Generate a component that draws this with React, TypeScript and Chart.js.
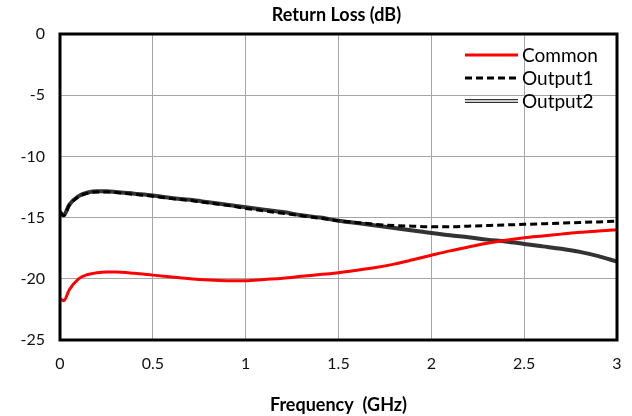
import React, { useEffect, useRef } from "react";
import { Chart, registerables } from "chart.js";

Chart.register(...registerables);

const freq = [0, 0.02, 0.05, 0.1, 0.15, 0.2, 0.25, 0.3, 0.4, 0.5, 0.6, 0.7, 0.8, 0.9, 1.0, 1.1, 1.2, 1.3, 1.4, 1.5, 1.6, 1.7, 1.8, 1.9, 2.0, 2.1, 2.2, 2.3, 2.4, 2.5, 2.6, 2.7, 2.8, 2.9, 3.0];

const common = [-21.6, -21.8, -20.9, -20.0, -19.65, -19.5, -19.45, -19.45, -19.55, -19.7, -19.85, -20.0, -20.1, -20.15, -20.15, -20.05, -19.95, -19.8, -19.65, -19.5, -19.3, -19.08, -18.8, -18.45, -18.08, -17.72, -17.4, -17.1, -16.85, -16.65, -16.5, -16.35, -16.2, -16.1, -16.0];

const output1 = [-14.6, -14.85, -14.0, -13.3, -13.0, -12.9, -12.9, -12.95, -13.1, -13.25, -13.45, -13.6, -13.8, -14.0, -14.25, -14.45, -14.65, -14.85, -15.05, -15.25, -15.4, -15.55, -15.65, -15.7, -15.75, -15.75, -15.7, -15.65, -15.6, -15.55, -15.5, -15.45, -15.4, -15.35, -15.3];

const output2 = [-14.55, -14.8, -13.95, -13.25, -12.95, -12.85, -12.85, -12.9, -13.05, -13.2, -13.4, -13.55, -13.75, -13.95, -14.15, -14.35, -14.55, -14.8, -15.0, -15.25, -15.45, -15.65, -15.85, -16.05, -16.25, -16.45, -16.6, -16.8, -16.95, -17.15, -17.35, -17.55, -17.8, -18.15, -18.6];

const seriesNames = ["Common", "Output1", "Output2"];
const titleText = "Return Loss (dB)";
const xTitle = "Frequency  (GHz)";

const FONT = "Lato, 'Open Sans', sans-serif";

const toPts = (vals: number[]) => vals.map((v, i) => ({ x: freq[i], y: v }));

const frameAndLegend = {
  id: "frameAndLegend",
  afterDatasetsDraw(chart: any) {
    const { ctx, chartArea } = chart;
    ctx.save();
    ctx.strokeStyle = "#000";
    ctx.lineWidth = 3;
    ctx.strokeRect(chartArea.left, chartArea.top, chartArea.right - chartArea.left, chartArea.bottom - chartArea.top);

    // title
    ctx.fillStyle = "#000";
    ctx.font = "bold 18px " + FONT;
    ctx.textAlign = "center";
    ctx.textBaseline = "middle";
    ctx.fillText(titleText, (chartArea.left + chartArea.right) / 2 - 2, 15);

    // legend
    const x0 = chartArea.left + 405;
    const x1 = x0 + 53;
    const ys = [chartArea.top + 21, chartArea.top + 44, chartArea.top + 67];
    ctx.font = "19px " + FONT;
    ctx.textBaseline = "middle";
    ctx.textAlign = "left";
    ctx.lineCap = "butt";
    seriesNames.forEach((name, i) => {
      const y = ys[i];
      ctx.setLineDash([]);
      if (i === 0) {
        ctx.strokeStyle = "#ff0000";
        ctx.lineWidth = 3;
        ctx.beginPath(); ctx.moveTo(x0, y); ctx.lineTo(x1, y); ctx.stroke();
      } else if (i === 1) {
        ctx.strokeStyle = "#000";
        ctx.lineWidth = 3;
        ctx.setLineDash([7, 4]);
        ctx.beginPath(); ctx.moveTo(x0, y); ctx.lineTo(x1, y); ctx.stroke();
        ctx.setLineDash([]);
      } else {
        ctx.strokeStyle = "#333";
        ctx.lineWidth = 4;
        ctx.beginPath(); ctx.moveTo(x0, y); ctx.lineTo(x1, y); ctx.stroke();
        ctx.strokeStyle = "#fff";
        ctx.lineWidth = 1.6;
        ctx.beginPath(); ctx.moveTo(x0, y); ctx.lineTo(x1, y); ctx.stroke();
      }
      ctx.fillStyle = "#000";
      ctx.fillText(name, x1 + 4, y + 1);
    });
    ctx.restore();
  },
};

export default function App() {
  const ref = useRef<HTMLCanvasElement | null>(null);

  useEffect(() => {
    document.body.style.margin = "0";
    const canvas = ref.current;
    if (!canvas) return;
    const chart = new Chart(canvas, {
      type: "line",
      data: {
        datasets: [
          {
            label: seriesNames[0],
            data: toPts(common),
            borderColor: "#ff0000",
            borderWidth: 3,
            pointRadius: 0,
            cubicInterpolationMode: "monotone",
          },
          {
            label: seriesNames[1],
            data: toPts(output1),
            borderColor: "#000",
            borderWidth: 3,
            borderDash: [7, 4],
            pointRadius: 0,
            cubicInterpolationMode: "monotone",
          },
          {
            label: seriesNames[2],
            data: toPts(output2),
            borderColor: "#333",
            borderWidth: 4,
            pointRadius: 0,
            cubicInterpolationMode: "monotone",
          },
          {
            label: seriesNames[2] + " core",
            data: toPts(output2),
            borderColor: "#fff",
            borderWidth: 1.6,
            pointRadius: 0,
            cubicInterpolationMode: "monotone",
          },
        ],
      },
      options: {
        animation: false,
        responsive: false,
        events: [],
        layout: { padding: { left: 0, right: 15, top: 34, bottom: 0 } },
        plugins: {
          legend: { display: false },
          tooltip: { enabled: false },
          title: { display: false },
        },
        scales: {
          x: {
            type: "linear",
            min: 0,
            max: 3,
            border: { display: false },
            grid: { color: "#a6a6a6", lineWidth: 1, drawTicks: false },
            ticks: {
              stepSize: 0.5,
              padding: 14,
              color: "#111",
              font: { family: FONT, size: 16 },
              maxRotation: 0,
              callback: (v: any) => String(Number(v)),
            },
            title: {
              display: true,
              text: xTitle,
              color: "#000",
              font: { family: FONT, size: 18, weight: "bold" },
              padding: { top: 9, bottom: 0 },
            },
            afterFit: (s: any) => { s.height = 76; s.paddingRight = 0; s.paddingLeft = 0; },
          },
          y: {
            type: "linear",
            min: -25,
            max: 0,
            border: { display: false },
            grid: { color: "#a6a6a6", lineWidth: 1, drawTicks: false },
            ticks: {
              stepSize: 5,
              padding: 15,
              color: "#111",
              font: { family: FONT, size: 16 },
            },
            afterFit: (s: any) => { s.width = 60; s.paddingTop = 0; s.paddingBottom = 0; },
          },
        },
      },
      plugins: [frameAndLegend],
    } as any);
    return () => chart.destroy();
  }, []);

  return (
    <div style={{ width: 632, height: 416 }}>
      <canvas ref={ref} width={632} height={416} style={{ display: "block" }} />
    </div>
  );
}
